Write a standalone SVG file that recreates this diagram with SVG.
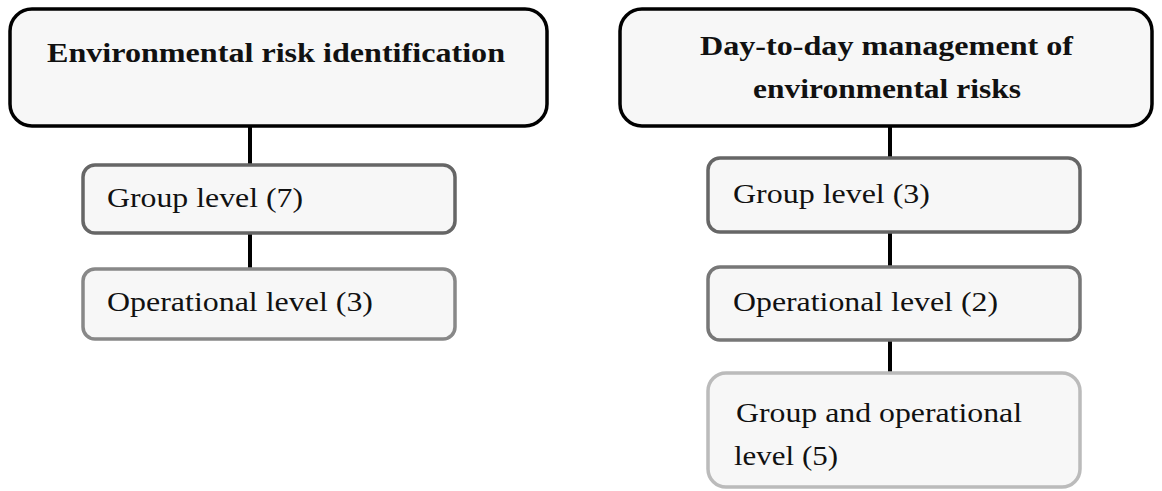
<svg xmlns="http://www.w3.org/2000/svg" width="1162" height="491" viewBox="0 0 1162 491">
  <style>
    .head { fill: #f7f7f7; stroke: #000; stroke-width: 3.5; }
    .sub { fill: #f7f7f7; stroke-width: 3.5; }
    .title { font-family: "Liberation Serif", serif; font-weight: bold; font-size: 27px; fill: #111; }
    .label { font-family: "Liberation Serif", serif; font-size: 27px; fill: #111; }
    .link { stroke: #000; stroke-width: 4; fill: none; }
  </style>
  <rect width="1162" height="491" fill="#fff"/>

  <g id="connectors">
    <line class="link" x1="250" y1="126" x2="250" y2="165"/>
    <line class="link" x1="250" y1="233" x2="250" y2="269"/>
    <line class="link" x1="890" y1="126" x2="890" y2="158"/>
    <line class="link" x1="890" y1="232" x2="890" y2="267"/>
    <line class="link" x1="890" y1="340" x2="890" y2="373"/>
  </g>

  <g id="risk-identification">
    <rect class="head" x="10" y="9" width="537" height="117" rx="22"/>
    <text class="title" x="47" y="62" textLength="458" lengthAdjust="spacingAndGlyphs">Environmental risk identification</text>
  </g>
  <g id="ident-group">
    <rect class="sub" x="83" y="165" width="372" height="68" rx="12" stroke="#666"/>
    <text class="label" x="107" y="207" textLength="196" lengthAdjust="spacingAndGlyphs">Group level (7)</text>
  </g>
  <g id="ident-operational">
    <rect class="sub" x="83" y="269" width="372" height="70" rx="12" stroke="#888"/>
    <text class="label" x="107" y="311" textLength="266" lengthAdjust="spacingAndGlyphs">Operational level (3)</text>
  </g>

  <g id="risk-management">
    <rect class="head" x="620" y="9" width="532" height="117" rx="22"/>
    <text class="title" x="700" y="55" textLength="373" lengthAdjust="spacingAndGlyphs">Day-to-day management of</text>
    <text class="title" x="753" y="98" textLength="268" lengthAdjust="spacingAndGlyphs">environmental risks</text>
  </g>
  <g id="mgmt-group">
    <rect class="sub" x="708" y="158" width="372" height="74" rx="12" stroke="#666"/>
    <text class="label" x="733" y="203" textLength="197" lengthAdjust="spacingAndGlyphs">Group level (3)</text>
  </g>
  <g id="mgmt-operational">
    <rect class="sub" x="708" y="267" width="372" height="73" rx="12" stroke="#777"/>
    <text class="label" x="733" y="311" textLength="265" lengthAdjust="spacingAndGlyphs">Operational level (2)</text>
  </g>
  <g id="mgmt-both">
    <rect class="sub" x="708" y="373" width="372" height="114" rx="18" stroke="#bbb"/>
    <text class="label" x="736" y="422" textLength="286" lengthAdjust="spacingAndGlyphs">Group and operational</text>
    <text class="label" x="734" y="465" textLength="104" lengthAdjust="spacingAndGlyphs">level (5)</text>
  </g>
</svg>
